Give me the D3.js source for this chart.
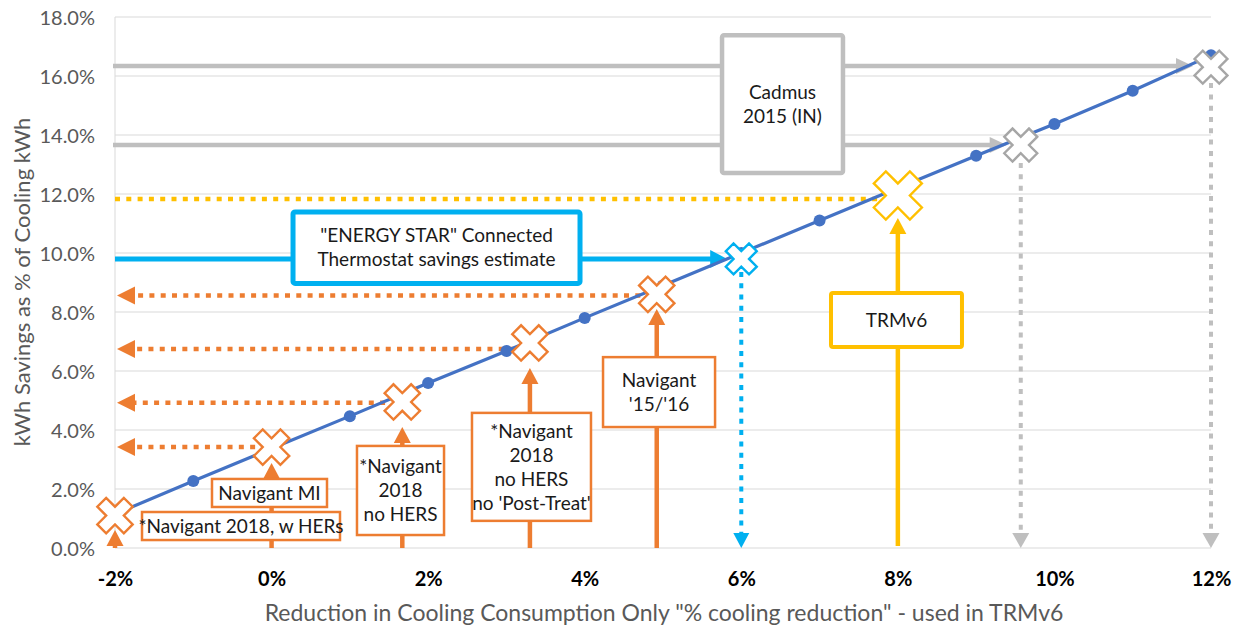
<!DOCTYPE html>
<html>
<head>
<meta charset="utf-8">
<script src="https://cdn.jsdelivr.net/npm/d3@7"></script>
<style>
  body { margin: 0; background: #fff; }
  svg { display: block; }
  text { font-family: Lato, "Liberation Sans", sans-serif; }
</style>
</head>
<body>
<svg id="chart" width="1235" height="629"></svg>
<script>
// ---- data (percent units) ----
const xTicks = [-2, 0, 2, 4, 6, 8, 10, 12];
const yTicks = [0, 2, 4, 6, 8, 10, 12, 14, 16, 18];

// savings curve: cooling reduction -> kWh savings
const curveX = [-2, -1, 0, 1, 2, 3, 4, 5, 6, 7, 8, 9, 10, 11, 12];
const curveY = [1.15, 2.27, 3.37, 4.47, 5.59, 6.68, 7.8, 8.9, 10.0, 11.1, 12.2, 13.3, 14.37, 15.5, 16.7];

// study estimates
const studyX = [-2, 0, 1.67, 3.3, 4.92, 6.0, 8.0, 9.57, 12.0];
const studyY = [1.1, 3.42, 4.95, 6.95, 8.6, 9.8, 11.95, 13.66, 16.3];
const studyGroup = ["orange", "orange", "orange", "orange", "orange", "blue", "gold", "gray", "gray"];

// savings levels read back to the vertical axis
const orangeLevels = [8.56, 6.75, 4.92, 3.42];
const orangeLevelFrom = [4.71, 3.11, 1.45, -0.21];
const blueLevel = 9.8;
const goldLevel = 11.83;
const grayLevels = [16.34, 13.66];
const grayLevelTo = [11.77, 9.39];

// ---- setup ----
const svg = d3.select("#chart");
const plot = { left: 115, right: 1211, top: 17, bottom: 548 };

const x = d3.scaleLinear().domain([-2, 12]).range([plot.left, plot.right]);
const y = d3.scaleLinear().domain([0, 18]).range([plot.bottom, plot.top]);

const C = {
  orange: "#ED7D31",
  blue: "#00B0F0",
  gold: "#FFC000",
  gray: "#BFBFBF",
  grayMark: "#A6A6A6",
  line: "#4472C4",
  grid: "#D9D9D9",
  text: "#595959"
};

// ---- gridlines ----
svg.append("g")
  .selectAll("line")
  .data(yTicks)
  .join("line")
  .attr("x1", plot.left).attr("x2", plot.right)
  .attr("y1", d => y(d)).attr("y2", d => y(d))
  .attr("stroke", C.grid).attr("stroke-width", 1);

svg.append("line")
  .attr("x1", plot.left).attr("x2", plot.left)
  .attr("y1", plot.top).attr("y2", plot.bottom)
  .attr("stroke", C.grid).attr("stroke-width", 1);

// ---- axes ----
const yAxis = svg.append("g")
  .attr("transform", `translate(${plot.left},0)`)
  .call(d3.axisLeft(y).tickValues(yTicks).tickSize(0).tickPadding(20).tickFormat(d => d.toFixed(1) + "%"));
yAxis.select(".domain").remove();
yAxis.selectAll("text")
  .attr("fill", C.text).attr("font-size", 20).attr("dy", "0.36em")
  .style("font-family", "Lato, sans-serif");

const xAxis = svg.append("g")
  .attr("transform", `translate(0,${plot.bottom})`)
  .call(d3.axisBottom(x).tickValues(xTicks).tickSize(0).tickPadding(24).tickFormat(d => d + "%"));
xAxis.select(".domain").remove();
xAxis.selectAll("text")
  .attr("fill", "#000").attr("font-size", 20).attr("font-weight", "bold")
  .style("font-family", "Lato, sans-serif");

svg.append("text")
  .attr("x", 664).attr("y", 621)
  .attr("text-anchor", "middle")
  .attr("fill", C.text).attr("font-size", 23)
  .text('Reduction in Cooling Consumption Only "% cooling reduction" - used in TRMv6');

svg.append("text")
  .attr("transform", "translate(30,282) rotate(-90)")
  .attr("text-anchor", "middle")
  .attr("fill", C.text).attr("font-size", 22)
  .text("kWh Savings as % of Cooling kWh");

// ---- helpers ----
const lines = svg.append("g");
const heads = svg.append("g");

function seg(x1, y1, x2, y2, color, width, dotted) {
  const l = lines.append("line")
    .attr("x1", x1).attr("y1", y1).attr("x2", x2).attr("y2", y2)
    .attr("stroke", color).attr("stroke-width", width);
  if (dotted) l.attr("stroke-dasharray", "5,6.3");
  return l;
}

// triangle arrowhead with tip at (tx, ty), pointing in dir
function head(tx, ty, dir, len, half, color) {
  let pts;
  if (dir === "left") pts = [[tx, ty], [tx + len, ty - half], [tx + len, ty + half]];
  if (dir === "right") pts = [[tx, ty], [tx - len, ty - half], [tx - len, ty + half]];
  if (dir === "up") pts = [[tx, ty], [tx - half, ty + len], [tx + half, ty + len]];
  if (dir === "down") pts = [[tx, ty], [tx - half, ty - len], [tx + half, ty - len]];
  heads.append("path")
    .attr("d", d3.line()(pts) + "Z")
    .attr("fill", color);
}

// ---- orange: levels read back to the axis (dotted, arrow to the left) ----
orangeLevels.forEach((lv, i) => {
  seg(x(orangeLevelFrom[i]), y(lv), x(-2) + 16, y(lv), C.orange, 4.5, true);
  head(x(-2) + 2, y(lv), "left", 18, 9, C.orange);
});

// ---- orange: vertical arrows from the axis up to each study ----
const orangeTips = [0.61, 2.88, 4.1, 6.1, 8.1];
studyX.slice(0, 5).forEach((sx, i) => {
  const tipY = y(orangeTips[i]);
  seg(x(sx), y(0), x(sx), tipY + 14, C.orange, 4.5, false);
  head(x(sx), tipY, "up", 16, 8.5, C.orange);
});

// ---- blue ----
seg(x(-2), y(blueLevel), x(5.82) - 15, y(blueLevel), C.blue, 5, false);
head(x(5.82), y(blueLevel), "right", 17, 9, C.blue);
seg(x(6.0), y(9.36), x(6.0), y(0) - 14, C.blue, 4, true);
head(x(6.0), y(0), "down", 15, 8, C.blue);

// ---- gold ----
seg(x(-2), y(goldLevel), x(7.75), y(goldLevel), C.gold, 4.5, true);
seg(x(8.0), y(0) - 2, x(8.0), y(11.19) + 14, C.gold, 4.5, false);
head(x(8.0), y(11.19), "up", 16, 8.5, C.gold);

// ---- gray ----
grayLevels.forEach((lv, i) => {
  seg(x(-2) - 2, y(lv), x(grayLevelTo[i]) - 15, y(lv), C.gray, 4.5, false);
  head(x(grayLevelTo[i]), y(lv), "right", 17, 8, C.gray);
});
seg(x(9.57), y(13.05), x(9.57), y(0) - 14, C.gray, 4, true);
head(x(9.57), y(0), "down", 15, 8.5, C.gray);
seg(x(12.0), y(15.76), x(12.0), y(0) - 14, C.gray, 4, true);
head(x(12.0), y(0), "down", 15, 8.5, C.gray);

// ---- label boxes ----
const boxes = [
  { lines: ["*Navigant 2018, w HERs"], color: C.orange, sw: 2.5, x0: -1.655, x1: 0.874, y0: 1.22, y1: 0.27 },
  { lines: ["Navigant MI"], color: C.orange, sw: 2.5, x0: -0.761, x1: 0.708, y0: 2.34, y1: 1.39 },
  { lines: ["*Navigant", "2018", "no HERS"], color: C.orange, sw: 2.5, x0: 1.091, x1: 2.203, y0: 3.46, y1: 0.44 },
  { lines: ["*Navigant", "2018", "no HERS", "no 'Post-Treat'"], color: C.orange, sw: 2.5, x0: 2.56, x1: 4.08, y0: 4.58, y1: 0.92 },
  { lines: ["Navigant", "'15/'16"], color: C.orange, sw: 2.5, x0: 4.234, x1: 5.665, y0: 6.47, y1: 4.1 },
  { lines: ['"ENERGY STAR" Connected', "Thermostat savings estimate"], color: C.blue, sw: 5, x0: 0.274, x1: 3.94, y0: 11.39, y1: 8.97 },
  { lines: ["TRMv6"], color: C.gold, sw: 4, x0: 7.146, x1: 8.819, y0: 8.64, y1: 6.81 },
  { lines: ["Cadmus", "2015 (IN)"], color: C.gray, sw: 4.5, x0: 5.754, x1: 7.299, y0: 17.38, y1: 12.71 }
];

const boxG = svg.append("g");
const lineH = 24;
boxes.forEach(b => {
  const bx0 = x(b.x0), bx1 = x(b.x1), by0 = y(b.y0), by1 = y(b.y1);
  boxG.append("rect")
    .attr("x", bx0).attr("y", by0)
    .attr("width", bx1 - bx0).attr("height", by1 - by0)
    .attr("fill", "#fff").attr("stroke", b.color).attr("stroke-width", b.sw)
    .attr("rx", b.sw > 3 ? 2 : 0);
  const cx = (bx0 + bx1) / 2, cy = (by0 + by1) / 2;
  const n = b.lines.length;
  const t = boxG.append("text")
    .attr("text-anchor", "middle")
    .attr("fill", "#1a1a1a").attr("font-size", 19);
  b.lines.forEach((s, i) => {
    t.append("tspan")
      .attr("x", cx)
      .attr("y", cy + (i - (n - 1) / 2) * lineH)
      .attr("dy", "0.35em")
      .text(s);
  });
});

// ---- savings curve ----
const curve = curveX.map((v, i) => [v, curveY[i]]);
svg.append("path")
  .datum(curve)
  .attr("d", d3.line().x(d => x(d[0])).y(d => y(d[1])))
  .attr("fill", "none").attr("stroke", C.line).attr("stroke-width", 3.2);
svg.append("g")
  .selectAll("circle")
  .data(curve)
  .join("circle")
  .attr("cx", d => x(d[0])).attr("cy", d => y(d[1]))
  .attr("r", 6).attr("fill", C.line);

// ---- study markers (rotated crosses) ----
const markerSize = { orange: 25, blue: 21.9, gold: 34, gray: 23.3 };
const markerColor = { orange: C.orange, blue: C.blue, gold: C.gold, gray: C.grayMark };
function crossPath(ext) {
  // plus shape with arm half-width w and arm reach L, rotated 45 degrees
  const L = ext * 0.75, w = ext * 0.25;
  const pts = [[w, -L], [w, -w], [L, -w], [L, w], [w, w], [w, L], [-w, L], [-w, w], [-L, w], [-L, -w], [-w, -w], [-w, -L]];
  const r = Math.SQRT1_2;
  return d3.line()(pts.map(([a, b]) => [(a - b) * r, (a + b) * r])) + "Z";
}
svg.append("g")
  .selectAll("path")
  .data(studyX.map((v, i) => ({ x: v, y: studyY[i], g: studyGroup[i] })))
  .join("path")
  .attr("transform", d => `translate(${x(d.x)},${y(d.y)})`)
  .attr("d", d => crossPath(markerSize[d.g]))
  .attr("fill", "#fff")
  .attr("stroke", d => markerColor[d.g])
  .attr("stroke-width", 2.4);
</script>
</body>
</html>
